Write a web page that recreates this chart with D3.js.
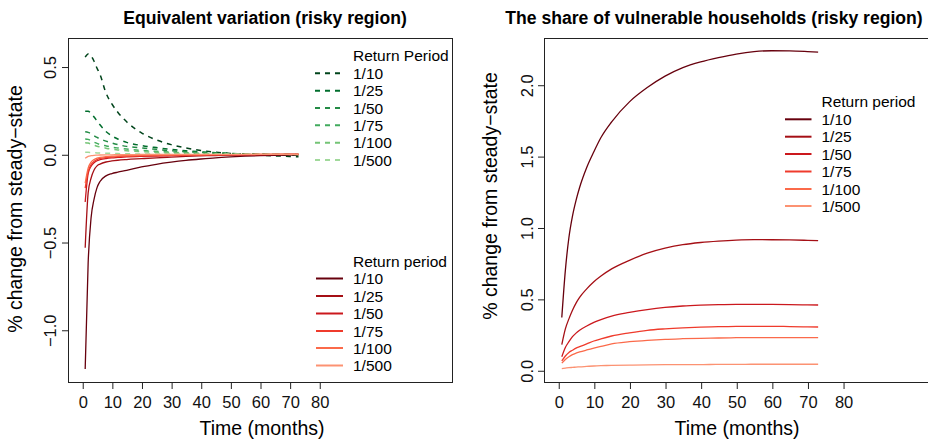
<!DOCTYPE html>
<html>
<head>
<meta charset="utf-8">
<script src="https://cdn.jsdelivr.net/npm/d3@7"></script>
<style>
  body { margin: 0; background: #fff; }
  svg { display: block; font-family: "Liberation Sans", Arial, Helvetica, sans-serif; }
</style>
</head>
<body>
<svg id="chart" width="928" height="439"></svg>
<script>
// months sampled along the curves
const months = [1, 2, 3, 4, 5, 6, 8, 10, 12, 15, 20, 25, 30, 35, 40, 45, 50, 55, 60, 65, 70, 73]
const returnPeriods = ['1/10', '1/25', '1/50', '1/75', '1/100', '1/500']
const greens = ['#00441b', '#006d2c', '#238b45', '#41ab5d', '#74c476', '#a1d99b']
const reds = ['#67000d', '#a50f15', '#cb181d', '#ef3b2c', '#fb6a4a', '#fc9272']

// equivalent variation, dashed (gains)
const evUp10 = [0.553, 0.572, 0.56, 0.53, 0.49, 0.455, 0.35, 0.287, 0.24, 0.185, 0.122, 0.082, 0.055, 0.036, 0.022, 0.012, 0.005, 0.0, -0.005, -0.009, -0.012, -0.014]
const evUp25 = [0.245, 0.245, 0.232, 0.212, 0.19, 0.168, 0.13, 0.105, 0.087, 0.068, 0.05, 0.038, 0.028, 0.02, 0.014, 0.009, 0.005, 0.002, 0.0, -0.002, -0.004, -0.005]
const evUp50 = [0.128, 0.125, 0.117, 0.106, 0.096, 0.088, 0.075, 0.064, 0.055, 0.045, 0.036, 0.028, 0.02, 0.015, 0.01, 0.007, 0.004, 0.002, 0.0, -0.002, -0.003, -0.004]
const evUp75 = [0.087, 0.085, 0.077, 0.069, 0.062, 0.056, 0.048, 0.041, 0.036, 0.03, 0.022, 0.017, 0.012, 0.009, 0.006, 0.004, 0.002, 0.001, 0.0, -0.001, -0.002, -0.003]
const evUp100 = [0.066, 0.064, 0.058, 0.052, 0.046, 0.042, 0.035, 0.029, 0.025, 0.02, 0.015, 0.011, 0.008, 0.006, 0.004, 0.003, 0.002, 0.001, 0.0, -0.001, -0.002, -0.002]
const evUp500 = [0.011, 0.011, 0.01, 0.009, 0.008, 0.007, 0.006, 0.005, 0.004, 0.003, 0.002, 0.002, 0.001, 0.001, 0.0, 0.0, 0.0, 0.0, 0.0, 0.0, 0.0, 0.0]

// equivalent variation, solid (losses)
const evDown10 = [-1.223, -0.62, -0.36, -0.255, -0.19, -0.155, -0.123, -0.11, -0.102, -0.092, -0.072, -0.057, -0.045, -0.035, -0.027, -0.02, -0.015, -0.011, -0.008, -0.006, -0.004, -0.003]
const evDown25 = [-0.533, -0.22, -0.135, -0.09, -0.066, -0.056, -0.044, -0.038, -0.034, -0.03, -0.025, -0.02, -0.016, -0.012, -0.009, -0.007, -0.005, -0.004, -0.003, -0.002, -0.001, -0.001]
const evDown50 = [-0.272, -0.11, -0.068, -0.048, -0.037, -0.031, -0.024, -0.02, -0.018, -0.015, -0.012, -0.01, -0.008, -0.006, -0.005, -0.004, -0.003, -0.002, -0.002, -0.001, -0.001, 0.0]
const evDown75 = [-0.193, -0.099, -0.058, -0.04, -0.03, -0.024, -0.018, -0.015, -0.013, -0.011, -0.009, -0.007, -0.006, -0.005, -0.004, -0.003, -0.002, -0.002, -0.001, -0.001, 0.0, 0.0]
const evDown100 = [-0.164, -0.079, -0.045, -0.03, -0.022, -0.018, -0.013, -0.011, -0.009, -0.008, -0.006, -0.005, -0.004, -0.003, -0.003, -0.002, -0.002, -0.001, -0.001, -0.001, 0.0, 0.0]
const evDown500 = [-0.023, -0.012, -0.008, -0.006, -0.005, -0.004, -0.003, -0.003, -0.002, -0.002, -0.001, -0.001, 0.0, 0.0, 0.0, 0.0, 0.0, 0.0, 0.0, 0.0, 0.0, 0.0]

// share of vulnerable households
const share10 = [0.37, 0.70, 0.93, 1.08, 1.19, 1.28, 1.42, 1.53, 1.63, 1.74, 1.88, 1.98, 2.06, 2.12, 2.16, 2.19, 2.215, 2.232, 2.238, 2.237, 2.232, 2.228]
const share25 = [0.18, 0.29, 0.36, 0.42, 0.47, 0.51, 0.57, 0.62, 0.66, 0.71, 0.77, 0.82, 0.855, 0.88, 0.895, 0.905, 0.912, 0.915, 0.914, 0.913, 0.91, 0.908]
const share50 = [0.095, 0.16, 0.2, 0.235, 0.26, 0.28, 0.31, 0.335, 0.355, 0.38, 0.405, 0.425, 0.44, 0.45, 0.456, 0.46, 0.462, 0.462, 0.461, 0.46, 0.458, 0.457]
const share75 = [0.065, 0.1, 0.125, 0.14, 0.155, 0.165, 0.185, 0.205, 0.22, 0.24, 0.262, 0.28, 0.29, 0.297, 0.302, 0.305, 0.308, 0.308, 0.308, 0.306, 0.304, 0.303]
const share100 = [0.05, 0.075, 0.095, 0.11, 0.12, 0.128, 0.142, 0.155, 0.167, 0.185, 0.2, 0.21, 0.217, 0.221, 0.224, 0.226, 0.228, 0.229, 0.229, 0.229, 0.228, 0.228]
const share500 = [0.012, 0.015, 0.018, 0.02, 0.022, 0.024, 0.027, 0.03, 0.032, 0.034, 0.036, 0.038, 0.039, 0.04, 0.04, 0.041, 0.041, 0.042, 0.042, 0.042, 0.042, 0.042]

const xTicks = [0, 10, 20, 30, 40, 50, 60, 70, 80]
const evTicks = [-1.0, -0.5, 0.0, 0.5]
const shareTicks = [0.0, 0.5, 1.0, 1.5, 2.0]

const svg = d3.select('#chart')

// R style axis limits: 4% padding on each side
function padded(lo, hi) {
    const d = (hi - lo) * 0.04
    return [lo - d, hi + d]
}

function fmt(v) {
    return d3.format('.1f')(v).replace('-', '\u2212')
}

function drawPanel(opts) {
    const { left, right, top, bottom, xlim, ylim, yTicks, title, titleX, ylabelX, ylabelY, tickLabelX, xlabelX } = opts

    const x = d3.scaleLinear().domain(padded(xlim[0], xlim[1])).range([left, right])
    const y = d3.scaleLinear().domain(padded(ylim[0], ylim[1])).range([bottom, top])

    const g = svg.append('g')

    const line = d3.line()
        .x((d, i) => x(months[i]))
        .y(d => y(d))
        .curve(d3.curveMonotoneX)

    opts.series.forEach(s => {
        g.append('path')
            .datum(s.values)
            .attr('d', line)
            .attr('fill', 'none')
            .attr('stroke', s.color)
            .attr('stroke-width', s.dashed ? 1.5 : 1.3)
            .attr('stroke-dasharray', s.dashed ? '5,5' : null)
    })

    g.append('rect')
        .attr('x', left + 0.5)
        .attr('y', top + 0.5)
        .attr('width', right - left)
        .attr('height', bottom - top)
        .attr('fill', 'none')
        .attr('stroke', '#222')
        .attr('stroke-width', 1)

    const xAxis = g.append('g')
        .attr('transform', `translate(0.5,${bottom + 0.5})`)
        .call(d3.axisBottom(x).tickValues(xTicks).tickSize(6.5).tickFormat(d => d))
    xAxis.select('.domain').remove()
    xAxis.selectAll('line').attr('stroke', '#222')
    xAxis.selectAll('text')
        .attr('y', 25.5)
        .attr('dy', null)
        .attr('fill', '#111')
        .style('font-size', '16.5px')

    const yAxis = g.append('g')
        .attr('transform', `translate(${left + 0.5},0.5)`)
        .call(d3.axisLeft(y).tickValues(yTicks).tickSize(6.5).tickFormat(fmt))
    yAxis.select('.domain').remove()
    yAxis.selectAll('line').attr('stroke', '#222')
    yAxis.selectAll('text')
        .attr('transform', 'rotate(-90)')
        .attr('x', 0)
        .attr('y', tickLabelX - left)
        .attr('dy', null)
        .attr('text-anchor', 'middle')
        .attr('fill', '#111')
        .style('font-size', '16.5px')

    g.append('text')
        .attr('x', titleX)
        .attr('y', 24)
        .attr('text-anchor', 'middle')
        .style('font-size', '17.6px')
        .style('font-weight', 'bold')
        .text(title)

    g.append('text')
        .attr('x', xlabelX)
        .attr('y', 435)
        .attr('text-anchor', 'middle')
        .style('font-size', '19.5px')
        .text('Time (months)')

    g.append('text')
        .attr('transform', `translate(${ylabelX},${ylabelY}) rotate(-90)`)
        .attr('text-anchor', 'middle')
        .style('font-size', '19.5px')
        .text('% change from steady\u2212state')

    return g
}

function drawLegend(g, opts) {
    const { titleText, textX, lineX0, lineX1, titleY, rowY, colors, dashed } = opts
    g.append('text')
        .attr('x', textX)
        .attr('y', titleY + 5.5)
        .style('font-size', '15.5px')
        .text(titleText)
    returnPeriods.forEach((rp, i) => {
        const cy = rowY[i]
        g.append('line')
            .attr('x1', lineX0).attr('x2', lineX1)
            .attr('y1', cy).attr('y2', cy)
            .attr('stroke', colors[i])
            .attr('stroke-width', 2)
            .attr('stroke-dasharray', dashed ? '5,5' : null)
        g.append('text')
            .attr('x', textX)
            .attr('y', cy + 5.5)
            .style('font-size', '15.5px')
            .text(rp)
    })
}

const evUp = [evUp10, evUp25, evUp50, evUp75, evUp100, evUp500]
const evDown = [evDown10, evDown25, evDown50, evDown75, evDown100, evDown500]
const shares = [share10, share25, share50, share75, share100, share500]

const leftPanel = drawPanel({
    left: 68, right: 452, top: 38, bottom: 382,
    xlim: [0, 120], ylim: [-1.225, 0.59],
    yTicks: evTicks,
    title: 'Equivalent variation (risky region)',
    titleX: 265, xlabelX: 262,
    ylabelX: 22, ylabelY: 209, tickLabelX: 55.5,
    series: evUp.map((v, i) => ({ values: v, color: greens[i], dashed: true }))
        .concat(evDown.map((v, i) => ({ values: v, color: reds[i], dashed: false })))
})

drawLegend(leftPanel, {
    titleText: 'Return Period', textX: 353, lineX0: 315, lineX1: 343,
    titleY: 55, rowY: [73.3, 90.7, 108, 125.3, 142.7, 160],
    colors: greens, dashed: true
})

drawLegend(leftPanel, {
    titleText: 'Return period', textX: 353, lineX0: 316, lineX1: 343,
    titleY: 261.5, rowY: [278.5, 296, 313.5, 331, 348, 365.5],
    colors: reds, dashed: false
})

const rightPanel = drawPanel({
    left: 544, right: 928.5, top: 38, bottom: 382,
    xlim: [0, 100], ylim: [0.007, 2.238],
    yTicks: shareTicks,
    title: 'The share of vulnerable households (risky region)',
    titleX: 714, xlabelX: 737,
    ylabelX: 497, ylabelY: 196, tickLabelX: 532,
    series: shares.map((v, i) => ({ values: v, color: reds[i], dashed: false }))
})

drawLegend(rightPanel, {
    titleText: 'Return period', textX: 821.5, lineX0: 785, lineX1: 811.5,
    titleY: 101.5, rowY: [119.3, 136.7, 154, 171.5, 189, 206],
    colors: reds, dashed: false
})
</script>
</body>
</html>
